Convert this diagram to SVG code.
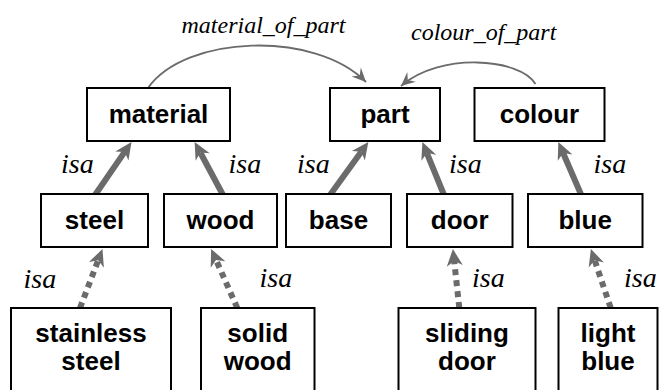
<svg xmlns="http://www.w3.org/2000/svg" width="659" height="390" viewBox="0 0 659 390">
<style>
.box{fill:#fff;stroke:#000;stroke-width:2}
.nt{font-family:"Liberation Sans",Arial,sans-serif;font-weight:bold;font-size:26px;fill:#000;text-anchor:middle}
.lbl{font-family:"Liberation Serif","DejaVu Serif",serif;font-style:italic;fill:#000}
.isa{font-size:28px}
.rel{font-size:24px}
.thick{fill:none;stroke:#6b6b6b;stroke-width:6;marker-end:url(#big)}
.dot{fill:none;stroke:#6b6b6b;stroke-width:6;stroke-dasharray:6 5;marker-end:url(#big)}
.thin{fill:none;stroke:#6b6b6b;stroke-width:1.8;marker-end:url(#small)}
</style>
<defs>
<marker id="big" markerUnits="userSpaceOnUse" viewBox="-6 -9 19 18" refX="0" refY="0" markerWidth="19" markerHeight="18" orient="auto">
<path d="M12,0 L-5,-8 L0,0 L-5,8 Z" fill="#6b6b6b"/>
</marker>
<marker id="small" markerUnits="userSpaceOnUse" viewBox="-15 -7 16 14" refX="0" refY="0" markerWidth="16" markerHeight="14" orient="auto">
<path d="M0,0 L-14,-6.5 L-9,0 L-14,6.5 Z" fill="#6b6b6b"/>
</marker>
</defs>
<g id="connectors">
<path class="thin" d="M148,88 C185,35 315,30 366,82"/>
<path class="thin" d="M535.5,84 C520,58 440,52 401,86"/>
<line class="thick" x1="95" y1="195" x2="124.7" y2="151.9"/>
<line class="thick" x1="223" y1="195" x2="200.3" y2="152.5"/>
<line class="thick" x1="330" y1="195" x2="361.3" y2="151.7"/>
<line class="thick" x1="444" y1="195" x2="426.9" y2="153.1"/>
<line class="thick" x1="581.3" y1="195" x2="563.1" y2="153"/>
<line class="dot" x1="80" y1="308" x2="98.2" y2="260.2"/>
<line class="dot" x1="237.3" y1="308" x2="216" y2="259.9"/>
<line class="dot" x1="459.3" y1="308" x2="454.2" y2="260.9"/>
<line class="dot" x1="610.7" y1="308" x2="594.7" y2="260.3"/>
<text class="lbl rel" x="181.5" y="32.5">material_of_part</text>
<text class="lbl rel" x="411" y="39.5">colour_of_part</text>
<text class="lbl isa" x="61" y="173">isa</text>
<text class="lbl isa" x="228.5" y="173">isa</text>
<text class="lbl isa" x="297" y="172.5">isa</text>
<text class="lbl isa" x="449" y="172.5">isa</text>
<text class="lbl isa" x="593.5" y="173">isa</text>
<text class="lbl isa" x="23.5" y="287.5">isa</text>
<text class="lbl isa" x="259.5" y="287">isa</text>
<text class="lbl isa" x="472" y="287">isa</text>
<text class="lbl isa" x="624" y="287">isa</text>
</g>
<g id="material"><rect class="box" x="87" y="88" width="143" height="53"/><text class="nt" x="158.5" y="123">material</text></g>
<g id="part"><rect class="box" x="330" y="88" width="110" height="53"/><text class="nt" x="385" y="123">part</text></g>
<g id="colour"><rect class="box" x="474.5" y="88" width="130" height="53"/><text class="nt" x="539.5" y="123">colour</text></g>
<g id="steel"><rect class="box" x="41" y="194" width="107" height="53"/><text class="nt" x="94.5" y="229">steel</text></g>
<g id="wood"><rect class="box" x="164" y="194" width="113" height="53"/><text class="nt" x="220.5" y="229">wood</text></g>
<g id="base"><rect class="box" x="286" y="194" width="105" height="53"/><text class="nt" x="338.5" y="229">base</text></g>
<g id="door"><rect class="box" x="407" y="194" width="105.5" height="53"/><text class="nt" x="459.7" y="229">door</text></g>
<g id="blue"><rect class="box" x="528" y="194" width="114.5" height="53"/><text class="nt" x="585.2" y="229">blue</text></g>
<g id="stainless_steel"><rect class="box" x="11" y="308" width="160" height="90"/><text class="nt" x="91" y="341.5">stainless</text><text class="nt" x="91" y="370">steel</text></g>
<g id="solid_wood"><rect class="box" x="201" y="308" width="113.5" height="90"/><text class="nt" x="257.7" y="341.5">solid</text><text class="nt" x="257.7" y="370">wood</text></g>
<g id="sliding_door"><rect class="box" x="398.5" y="308" width="137" height="90"/><text class="nt" x="467" y="341.5">sliding</text><text class="nt" x="467" y="370">door</text></g>
<g id="light_blue"><rect class="box" x="558.5" y="308" width="99" height="90"/><text class="nt" x="608" y="341.5">light</text><text class="nt" x="608" y="370">blue</text></g>
</svg>
